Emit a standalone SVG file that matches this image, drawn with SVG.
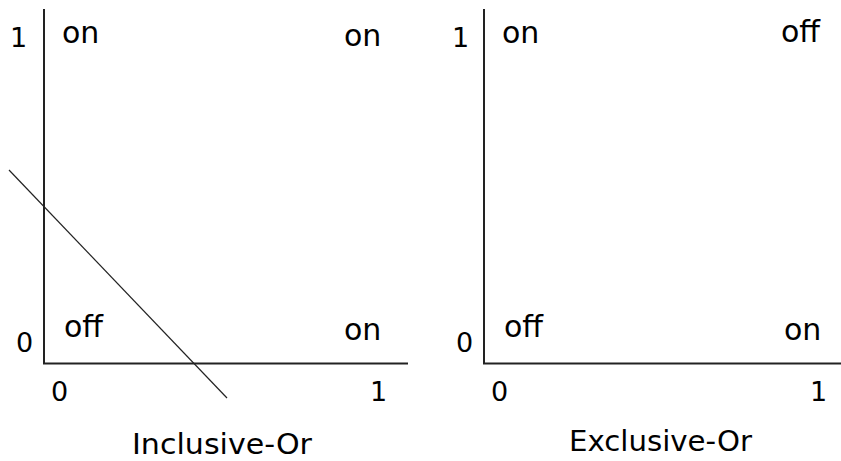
<svg xmlns="http://www.w3.org/2000/svg" width="841" height="461" viewBox="0 0 841 461">
<style>
.ax{stroke:#222;stroke-width:2;fill:none}
.sep{stroke:#222;stroke-width:1.2;fill:none}
.lbl{font-family:"DejaVu Sans",Verdana,sans-serif;font-size:30px;fill:#000}
.num{font-family:"DejaVu Sans",Verdana,sans-serif;font-size:27px;fill:#000}
.ttl{font-family:"DejaVu Sans",Verdana,sans-serif;font-size:28px;fill:#000}
</style>
<rect width="841" height="461" fill="#fff"/>
<g id="inclusive-or">
  <g id="axes-left">
    <line class="ax" x1="44" y1="9" x2="44" y2="364"/>
    <line class="ax" x1="43" y1="363.5" x2="408" y2="363.5"/>
  </g>
  <text class="num" x="10" y="47">1</text>
  <text class="num" x="16" y="352">0</text>
  <text class="num" x="51" y="401">0</text>
  <text class="num" x="370" y="401">1</text>
  <text class="lbl" x="62" y="43">on</text>
  <text class="lbl" x="344" y="46">on</text>
  <text class="lbl" x="64" y="337">off</text>
  <text class="lbl" x="344" y="340">on</text>
  <text class="ttl" x="132" y="454" textLength="180" lengthAdjust="spacingAndGlyphs">Inclusive-Or</text>
</g>
<g id="exclusive-or">
  <g id="axes-right">
    <line class="ax" x1="484" y1="9" x2="484" y2="364"/>
    <line class="ax" x1="483" y1="363.5" x2="841" y2="363.5"/>
  </g>
  <text class="num" x="452" y="47">1</text>
  <text class="num" x="456" y="352">0</text>
  <text class="num" x="491" y="401">0</text>
  <text class="num" x="810" y="401">1</text>
  <text class="lbl" x="502" y="43">on</text>
  <text class="lbl" x="781" y="42">off</text>
  <text class="lbl" x="504" y="337">off</text>
  <text class="lbl" x="784" y="340">on</text>
  <text class="ttl" x="569" y="451" textLength="183" lengthAdjust="spacingAndGlyphs">Exclusive-Or</text>
</g>
<g id="connectors">
  <line class="sep" x1="9" y1="170" x2="227" y2="398"/>
</g>
</svg>
